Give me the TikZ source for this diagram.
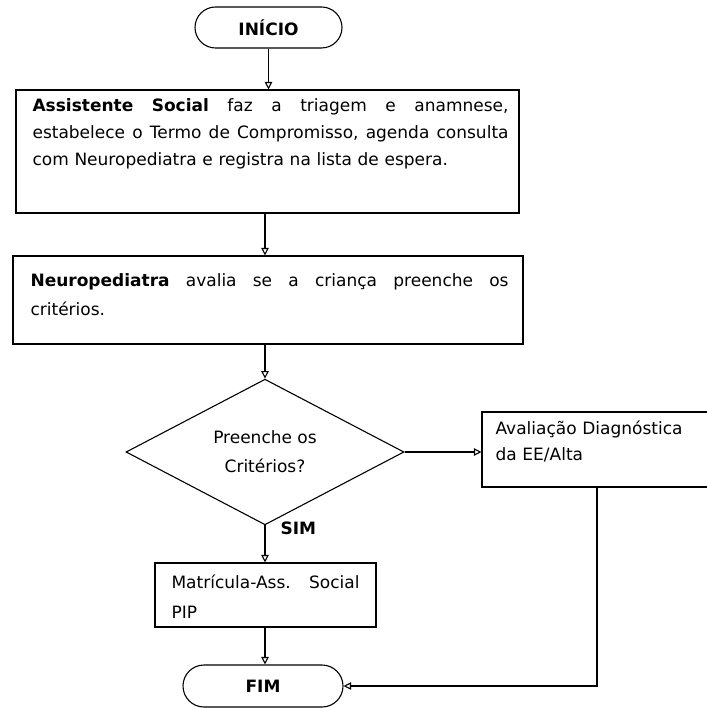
\documentclass[tikz,border=0pt]{standalone}
\usepackage{fontspec}
\setmainfont{DejaVu Sans}
\usetikzlibrary{shapes.geometric,shapes.misc,arrows.meta}
\newcommand\spreadline[2]{\leavevmode\hbox to #1{#2}}
\begin{document}
\begin{tikzpicture}[x=1pt,y=-1pt,line width=1.1pt,
  shape box/.style={draw,rectangle,inner sep=0pt},
  terminal/.style={draw,rounded rectangle,inner sep=0pt,
    font=\fontsize{17}{20}\selectfont\bfseries},
  decision/.style={draw,diamond,inner sep=0pt,align=center},
  txt/.style={anchor=north west,inner sep=0pt,align=left},
  arr/.style={-{Triangle[open,width=7.5pt,length=7.5pt]}}]
\useasboundingbox[fill=white] (0,0) rectangle (706,708);

% start and end terminals
\node[terminal,minimum width=147pt,minimum height=41pt] (ini) at (268.5,27.5) {INÍCIO};
\node[terminal,minimum width=160pt,minimum height=42pt] (fim) at (263,686) {FIM};

% process boxes
\node[shape box,minimum width=503pt,minimum height=123pt] (b1) at (267.5,151.5) {};
\node[shape box,minimum width=510pt,minimum height=88pt] (b2) at (268,300) {};
\node[shape box,minimum width=221pt,minimum height=64pt] (mat) at (265.5,595) {};
\node[shape box,minimum width=230pt,minimum height=75pt] (aval) at (597,449.5) {};

% decision
\node[decision,minimum width=278pt,minimum height=134pt,
  font=\fontsize{17}{29}\selectfont] (dec) at (265,452) {Preenche os\\Critérios?};

% box texts
\node[txt,text width=476pt,font=\fontsize{17}{27}\selectfont] (t1) at (32,92)
  {\strut\spreadline{476pt}{\textbf{Assistente}\hfill\textbf{Social}\hfill faz\hfill a\hfill triagem\hfill e\hfill anamnese,}\\
   \spreadline{476pt}{estabelece\hfill o\hfill Termo\hfill de\hfill Compromisso,\hfill agenda\hfill consulta}\\
   com Neuropediatra e registra na lista de espera.};
\node[txt,text width=478pt,font=\fontsize{17}{29}\selectfont] (t2) at (30,265.7)
  {\strut\spreadline{478pt}{\textbf{Neuropediatra}\hfill avalia\hfill se\hfill a\hfill criança\hfill preenche\hfill os}\\
   critérios.};
\node[txt,text width=188pt,font=\fontsize{17}{30}\selectfont] (t3) at (171,567)
  {\strut\spreadline{188pt}{Matrícula-Ass.\hfill Social}\\PIP};
\node[txt,text width=205pt,font=\fontsize{17}{26}\selectfont] (t4) at (495,415.8)
  {\strut Avaliação Diagnóstica\\da EE/Alta};

% connectors
\draw[arr] (ini.south) -- (ini.south |- b1.north);
\draw[arr] (b1.south -| dec.north) -- (b2.north -| dec.north);
\draw[arr] (b2.south -| dec.north) -- (dec.north);
\draw[arr] (dec.east) -- (dec.east -| aval.west);
\draw[arr] (dec.south) -- (dec.south |- mat.north);
\node[anchor=west,inner sep=0pt,font=\fontsize{17}{20}\selectfont\bfseries] (sim) at (280,528) {SIM};
\draw[arr] (mat.south -| dec.south) -- (dec.south |- fim.north);
\draw[arr] (aval.south) |- (fim.east);
\end{tikzpicture}
\end{document}
